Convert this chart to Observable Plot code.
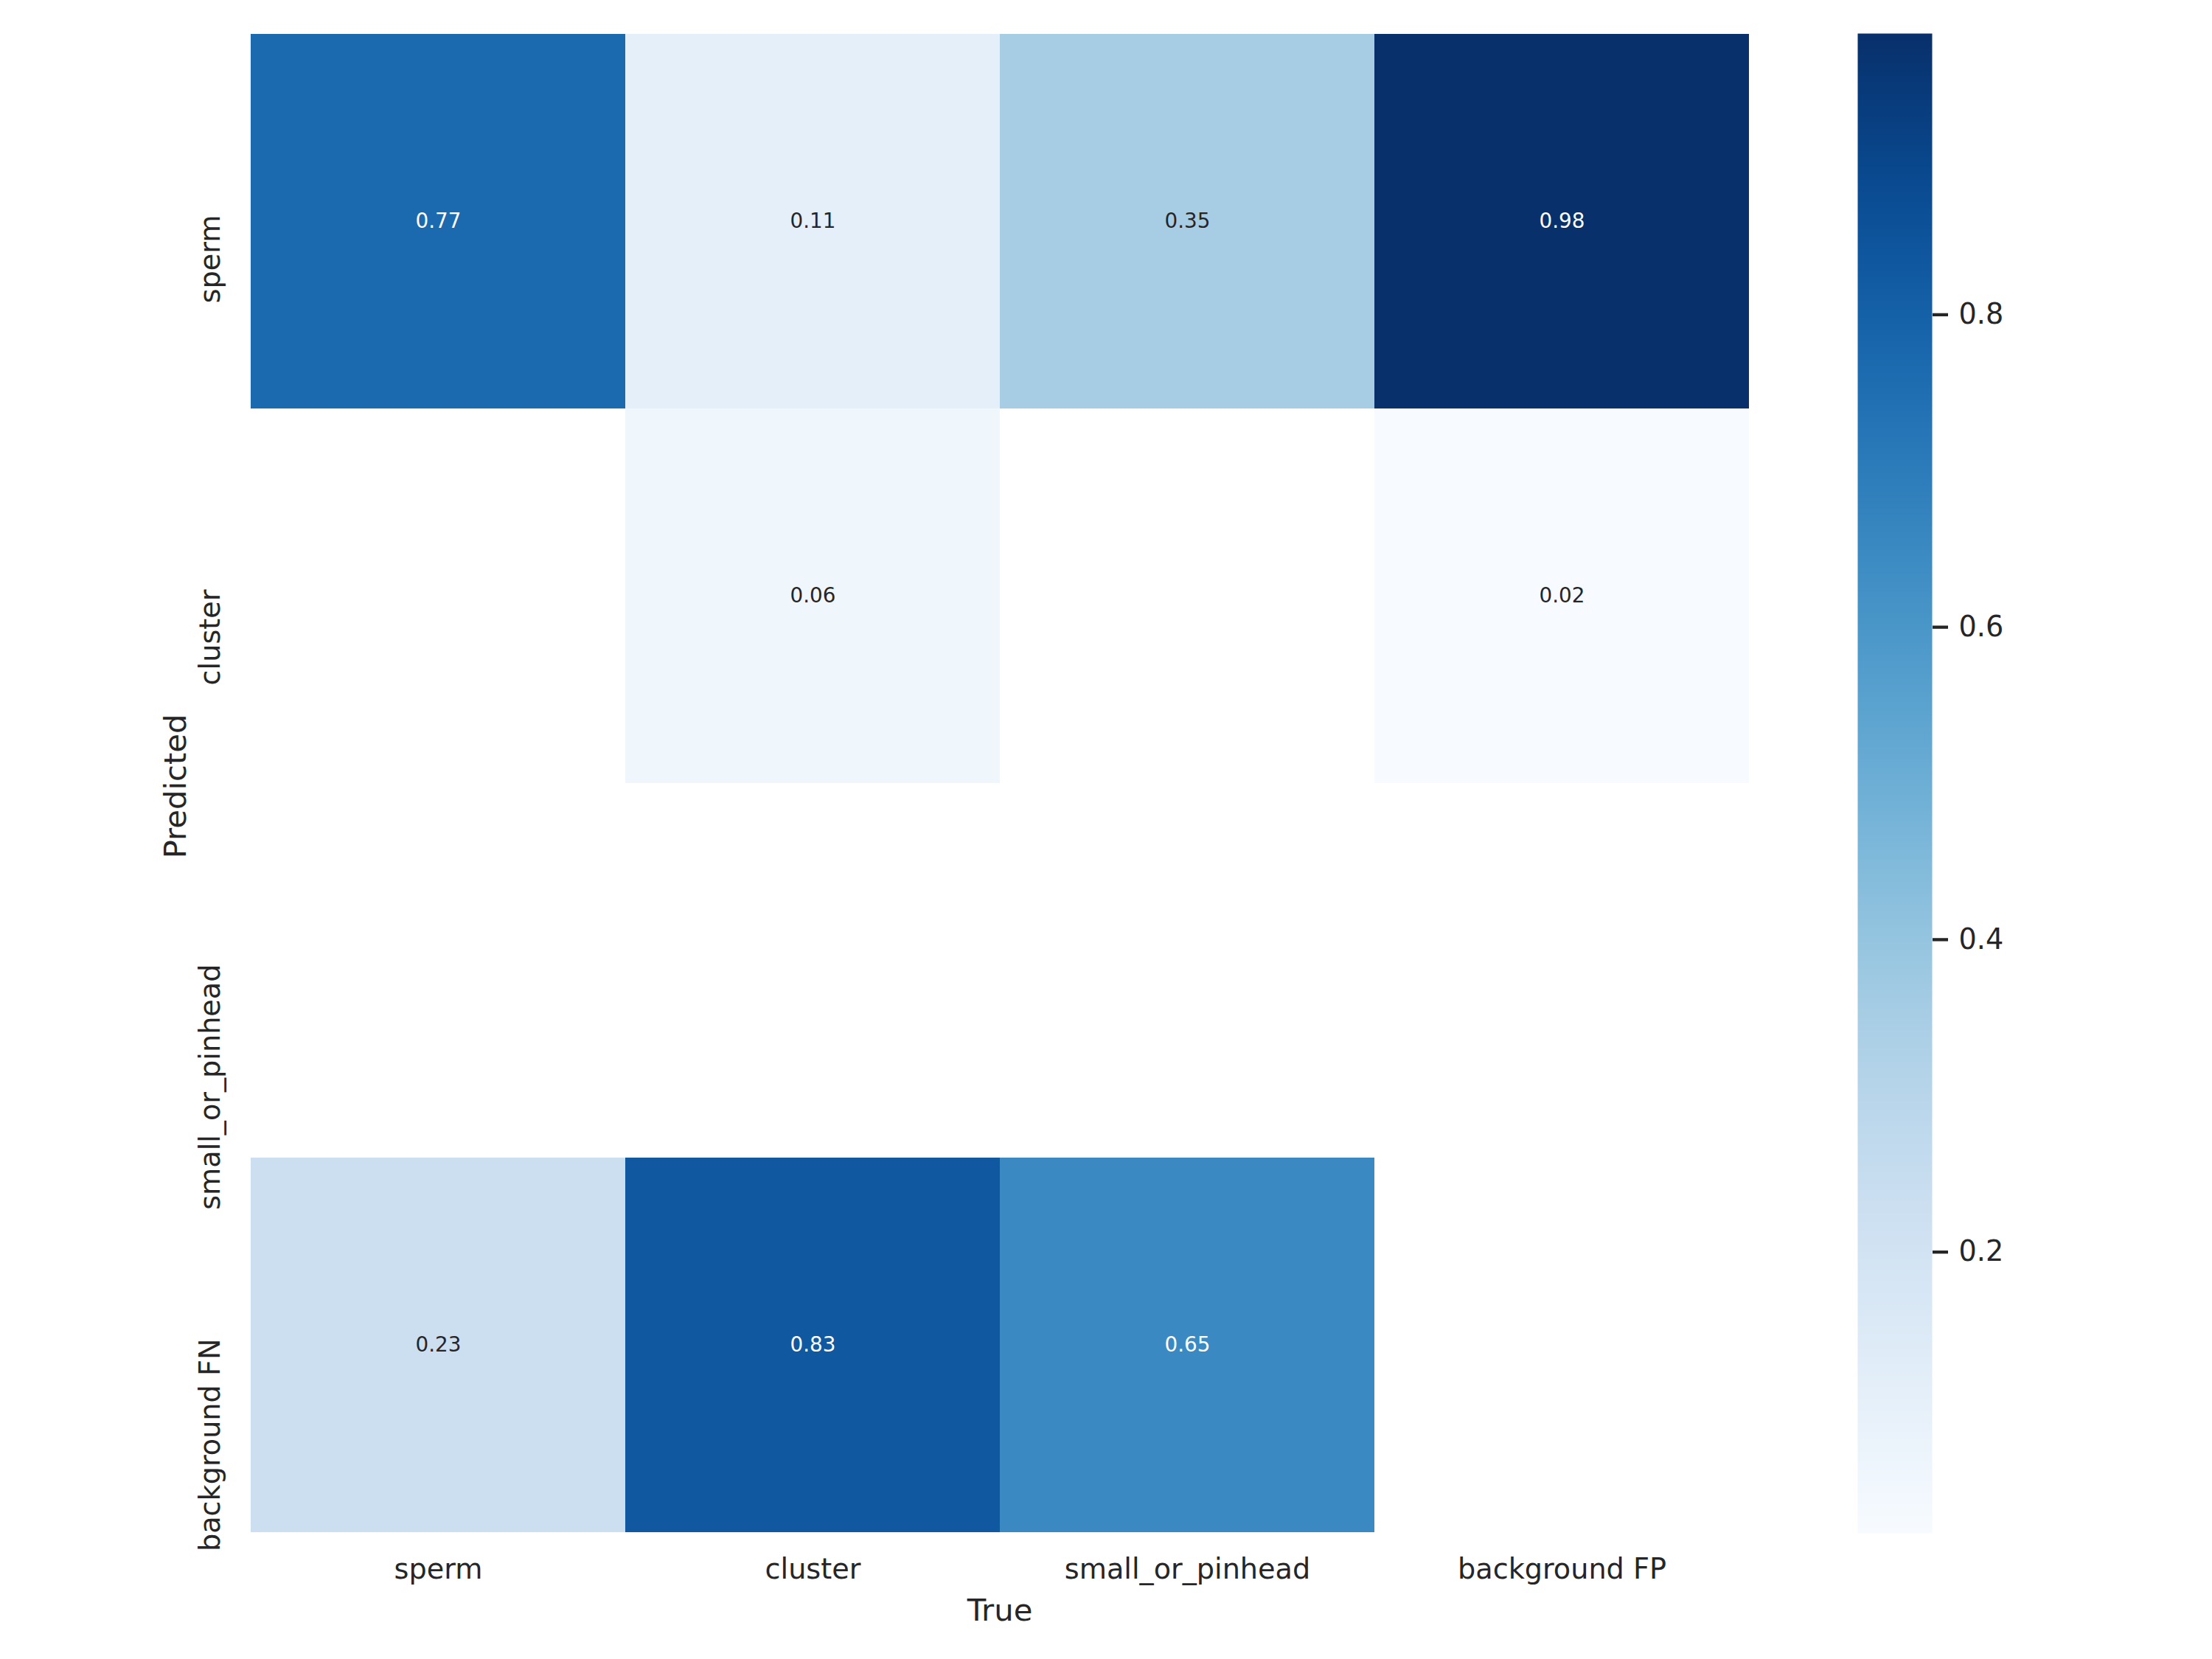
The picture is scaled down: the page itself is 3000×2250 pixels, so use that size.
<!DOCTYPE html>
<html>
<head>
<meta charset="utf-8">
<script src="https://cdn.jsdelivr.net/npm/d3@7"></script>
<script src="https://cdn.jsdelivr.net/npm/@observablehq/plot@0.6"></script>
<style>
  html, body { margin: 0; padding: 0; background: #ffffff; }
  #chart { position: relative; width: 3000px; height: 2250px; background: #ffffff; }
  #chart svg { position: absolute; left: 0; top: 0; }
</style>
</head>
<body>
<div id="chart"></div>
<script>
// Categories
const trueLabels = ["sperm", "cluster", "small_or_pinhead", "background FP"];
const predLabels = ["sperm", "cluster", "small_or_pinhead", "background FN"];
// Matrix rows (Predicted), one value per True column; null = empty cell
const rowSperm        = [0.77, 0.11, 0.35, 0.98];
const rowCluster      = [null, 0.06, null, 0.02];
const rowSmall        = [null, null, null, null];
const rowBackgroundFN = [0.23, 0.83, 0.65, null];
// Colorbar ticks
const colorTicks = [0.2, 0.4, 0.6, 0.8];
const xLabel = "True";
const yLabel = "Predicted";

const rows = [rowSperm, rowCluster, rowSmall, rowBackgroundFN];
const cells = [];
rows.forEach((r, i) => r.forEach((v, j) => {
  if (v != null) cells.push({pred: predLabels[i], tru: trueLabels[j], value: v});
}));
const vals = cells.map(d => d.value);
const vmin = d3.min(vals), vmax = d3.max(vals);

const W = 3000, H = 2250;
const mTop = 45, mBottom = 171;
const font = "DejaVu Sans";
const ink = "#262626";

const colorOpts = {type: "linear", scheme: "blues", domain: [vmin, vmax]};

const heat = Plot.plot({
  width: W, height: H,
  marginLeft: 339, marginRight: 628, marginTop: mTop, marginBottom: mBottom,
  style: {fontFamily: font, background: "transparent", color: ink},
  x: {type: "band", domain: trueLabels, padding: 0, axis: null},
  y: {type: "band", domain: predLabels, padding: 0, axis: null},
  color: colorOpts,
  marks: [
    Plot.cell(cells, {x: "tru", y: "pred", fill: "value", inset: 0}),
    Plot.text(cells, {filter: d => d.value > 0.5, x: "tru", y: "pred", text: d => d.value.toFixed(2),
      fill: "white", fontSize: 27.8, lineAnchor: "middle"}),
    Plot.text(cells, {filter: d => d.value <= 0.5, x: "tru", y: "pred", text: d => d.value.toFixed(2),
      fill: ink, fontSize: 27.8, lineAnchor: "middle"}),
    // x tick labels
    Plot.text(trueLabels, {x: d => d, text: d => d, frameAnchor: "bottom", dy: 34, lineAnchor: "top",
      fill: ink, fontSize: 38.2}),
    // y tick labels (rotated, text ends at the tick position)
    Plot.text(predLabels, {y: d => d, text: d => d, frameAnchor: "left", dx: -42, dy: -9, rotate: -90,
      lineAnchor: "bottom", textAnchor: "end", fill: ink, fontSize: 38.2}),
    // axis titles
    Plot.text([xLabel], {frameAnchor: "bottom", dy: 118, lineAnchor: "bottom", textAnchor: "middle",
      text: d => d, fill: ink, fontSize: 41.7}),
    Plot.text([yLabel], {frameAnchor: "left", dx: -88, dy: 4, rotate: -90, lineAnchor: "bottom",
      textAnchor: "middle", text: d => d, fill: ink, fontSize: 41.7})
  ]
});

const bar = Plot.plot({
  width: W, height: H,
  marginLeft: 2519, marginRight: 380, marginTop: mTop, marginBottom: mBottom,
  style: {fontFamily: font, background: "transparent", color: ink},
  x: {domain: [0, 1], axis: null},
  y: {domain: [vmin, vmax], axis: null},
  color: colorOpts,
  marks: [
    Plot.raster({x1: 0, x2: 1, y1: vmin, y2: vmax, fill: (x, y) => y, width: 1, height: 1000, imageRendering: "auto"}),
    Plot.axisY({anchor: "right", ticks: colorTicks, tickFormat: d3.format(".1f"), tickSize: 21,
      tickPadding: 15, fontSize: 38.2, strokeWidth: 4.3, stroke: ink, fill: ink, label: null})
  ]
});

const c = document.getElementById("chart");
c.appendChild(heat);
c.appendChild(bar);
</script>
</body>
</html>
